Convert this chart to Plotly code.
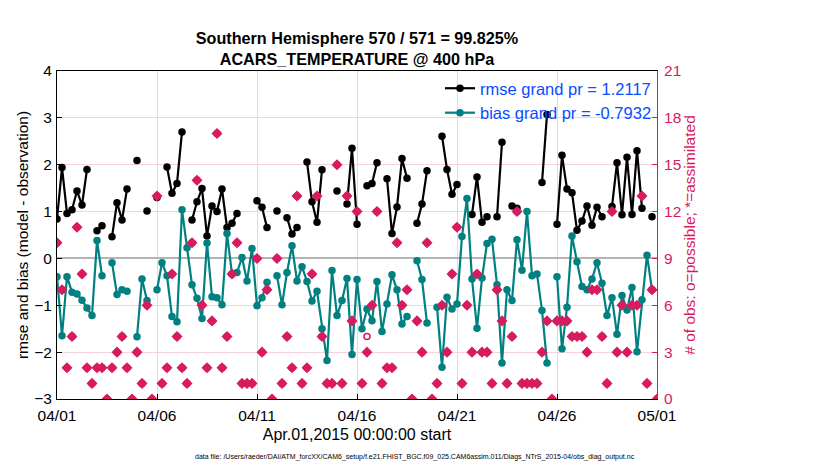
import pandas as pd
import plotly.graph_objects as go

nan = float("nan")

# 6-hourly bins, 2015-04-01 00Z .. 2015-05-01 00Z
times = pd.date_range("2015-04-01 00:00", periods=121, freq="6h")

tick_dates = pd.date_range("2015-04-01", periods=7, freq="5D")
tick_labels = ["04/01", "04/06", "04/11", "04/16", "04/21", "04/26", "05/01"]

rmse = [
    0.84, 1.94, 0.96, 1.04, 1.44, 1.14, 1.90, nan, 0.59, 0.70,
    nan, 0.46, 1.19, 0.82, 1.48, nan, 2.09, nan, 1.01, nan,
    1.30, nan, 1.95, 1.39, 1.60, 2.70, nan, 0.82, 1.21, 1.49,
    0.48, 1.12, 1.00, 1.48, 0.66, 0.75, 0.96, nan, nan, nan,
    1.23, 1.09, 0.66, nan, 1.01, nan, 0.87, 0.52, 0.66, nan,
    2.06, 1.21, 0.77, 1.89, nan, nan, 1.44, nan, 1.16, 2.35,
    0.73, nan, 1.55, 1.60, 2.04, nan, 1.70, 0.53, 1.10, 2.13,
    1.71, nan, 0.75, 1.16, 1.87, nan, nan, 2.61, 1.90, 1.37,
    1.58, nan, nan, 0.94, 1.74, 0.77, 0.89, nan, 0.89, 2.48,
    nan, 1.12, 1.07, nan, nan, nan, nan, 1.62, 3.07, nan,
    0.73, 2.20, 1.48, 1.40, 0.60, 0.80, 1.12, 0.71, 1.09, 0.89,
    nan, 1.11, 2.04, 0.93, 2.16, 0.94, 2.30, 1.07, nan, 0.89,
    nan,
]

bias = [
    -0.39, -1.65, -0.39, -0.72, -0.76, -0.89, -1.06, -1.22, 0.38, -0.37,
    nan, -0.09, -0.77, -0.67, -0.70, nan, -1.67, -0.44, -0.90, nan,
    -0.67, -0.09, -0.37, -1.24, -1.35, 1.04, 0.23, -0.56, -0.85, -1.28,
    0.33, -0.82, -0.84, -0.99, 0.53, -0.33, -0.30, 0.02, -0.48, 0.21,
    -1.01, -0.84, -0.51, nan, -0.37, -0.99, -0.30, 0.27, -0.48, -0.18,
    -0.49, -0.91, -0.70, -1.50, -2.18, -0.26, -1.22, -0.90, -0.43, -2.05,
    -0.45, -1.50, -1.08, -1.33, -0.49, -1.56, -0.97, -0.35, -0.67, -1.40,
    -1.24, nan, -0.05, -0.45, -1.38, nan, -1.04, -2.32, -0.83, -1.08,
    -0.97, 0.47, 1.28, -0.44, -1.49, -0.42, 0.32, 0.41, -0.56, -2.23,
    -0.67, -0.90, 0.40, -0.25, 1.00, -0.37, -0.33, -1.11, -2.23, nan,
    -0.39, -1.93, -1.04, 0.48, -0.07, -0.60, -0.67, -0.44, -0.09, -0.53,
    -1.22, -0.84, -1.62, -0.79, -1.10, -0.62, -1.99, -0.88, 0.07, -0.67,
    nan,
]

n_assimilated = [
    10, 7, 2, 4, 11, 8, 2, 1, 2, 2,
    0, 2, 3, 4, 2, 0, 3, 1, 6, 0,
    13, 1, 2, 8, 4, 2, 1, 10, 14, 6,
    2, 5, 17, 2, 4, 8, 10, 1, 1, 1,
    9, 3, 7, 0, 9, 1, 4, 2, 13, 1,
    2, 8, 13, 4, 1, 1, 15, 1, 13, 5,
    12, 1, 3, 6, 12, 1, 2, 2, 10, 6,
    7, 0, 5, 3, 10, 0, 1, 6, 3, 8,
    11, 1, 6, 3, 8, 3, 3, 1, 7, 5,
    1, 4, 12, 1, 1, 1, 1, 3, 5, 0,
    5, 5, 5, 4, 4, 4, 3, 7, 7, 4,
    1, 12, 3, 6, 3, 6, 6, 13, 1, 7,
    0,
]

n_possible = [
    10, 7, 2, 4, 11, 8, 2, 1, 2, 2,
    0, 2, 3, 4, 2, 0, 3, 1, 6, 0,
    13, 1, 2, 8, 4, 2, 1, 10, 14, 6,
    2, 5, 17, 2, 4, 8, 10, 1, 1, 1,
    9, 3, 7, 0, 9, 1, 4, 2, 13, 1,
    2, 8, 13, 4, 1, 1, 15, 1, 13, 5,
    12, 1, 4, 6, 12, 1, 2, 2, 10, 6,
    7, 0, 5, 3, 10, 0, 1, 6, 3, 8,
    11, 1, 6, 3, 8, 3, 3, 1, 7, 5,
    1, 4, 12, 1, 1, 1, 1, 3, 5, 0,
    5, 5, 5, 4, 4, 4, 3, 7, 7, 4,
    1, 12, 3, 6, 3, 6, 6, 13, 1, 7,
    0,
]

PINK = "#d81b5f"
TEAL = "#008080"
BLUE = "#0a4cff"
FONT = "Liberation Sans"

# The page body has an 8px margin, so the figure is sized/offset to compensate.
W, H = 822, 462

fig = go.Figure()

fig.add_trace(go.Scatter(
    x=times, y=rmse, mode="lines+markers", name="rmse grand pr = 1.2117",
    line=dict(color="black", width=2.2),
    marker=dict(color="black", size=7.5, symbol="circle"),
))
fig.add_trace(go.Scatter(
    x=times, y=bias, mode="lines+markers", name="bias grand pr = -0.7932",
    line=dict(color=TEAL, width=2.2),
    marker=dict(color=TEAL, size=7.5, symbol="circle"),
))
fig.add_trace(go.Scatter(
    x=times, y=n_possible, yaxis="y2", mode="markers", showlegend=False,
    marker=dict(symbol="circle-open", size=6, color=PINK, line=dict(width=1.5, color=PINK)),
))
fig.add_trace(go.Scatter(
    x=times, y=n_assimilated, yaxis="y2", mode="markers", showlegend=False,
    marker=dict(symbol="diamond", size=8.5, color=PINK, line=dict(width=0)),
))

fig.update_layout(
    width=W, height=H,
    margin=dict(l=49, r=173, t=63, b=71, autoexpand=False),
    paper_bgcolor="white", plot_bgcolor="white",
    font=dict(family=FONT, size=15, color="black"),
    title=dict(
        text="<b>Southern Hemisphere 570 / 571 = 99.825%<br>ACARS_TEMPERATURE @ 400 hPa</b>",
        x=349 / W, xanchor="center", y=1 - 36 / H, yanchor="top",
        font=dict(family=FONT, size=16.2, color="black"),
    ),
    xaxis=dict(
        range=[times[0], times[-1]],
        tickvals=tick_dates, ticktext=tick_labels,
        showgrid=True, gridcolor="#dcdcdc", gridwidth=1,
        showline=True, linecolor="black", linewidth=1, mirror=True,
        ticks="inside", ticklen=5, tickcolor="black",
        zeroline=False, automargin=False, ticklabelstandoff=2,
        title=dict(text="Apr.01,2015 00:00:00 start", font=dict(size=16), standoff=6),
        tickfont=dict(size=15.5),
    ),
    yaxis=dict(
        range=[-3, 4], dtick=1,
        showgrid=False, automargin=False, ticklabelstandoff=1,
        zeroline=True, zerolinecolor="#b4b4b4", zerolinewidth=2,
        showline=True, linecolor="black", linewidth=1,
        ticks="inside", ticklen=5, tickcolor="black",
        title=dict(text="rmse and bias (model - observation)", font=dict(size=15.5), standoff=1),
        tickfont=dict(size=15.5),
    ),
    yaxis2=dict(
        range=[0, 21], dtick=3, overlaying="y", side="right",
        showgrid=True, gridcolor="#f5d0dd", gridwidth=1,
        zeroline=False, automargin=False, ticklabelstandoff=3,
        showline=True, linecolor=PINK, linewidth=1,
        ticks="inside", ticklen=5, tickcolor=PINK,
        tickfont=dict(size=15.5, color=PINK),
        title=dict(text="# of obs: o=possible; *=assimilated", font=dict(size=15.5, color=PINK), standoff=2),
    ),
    legend=dict(
        x=1.0, xanchor="right", y=1.0, yanchor="top",
        bgcolor="rgba(255,255,255,0)", borderwidth=0,
        font=dict(size=16.5, color=BLUE),
        tracegroupgap=0, itemwidth=30,
    ),
    showlegend=True,
)

fig.add_annotation(
    text="data file: /Users/raeder/DAI/ATM_forcXX/CAM6_setup/f.e21.FHIST_BGC.f09_025.CAM6assim.011/Diags_NTrS_2015-04/obs_diag_output.nc",
    xref="paper", yref="paper", x=(415 - 57) / 600, y=(399 - 457) / 328,
    xanchor="center", yanchor="middle", showarrow=False,
    font=dict(size=7, color="black", family=FONT),
)

fig.write_html("out.html")
